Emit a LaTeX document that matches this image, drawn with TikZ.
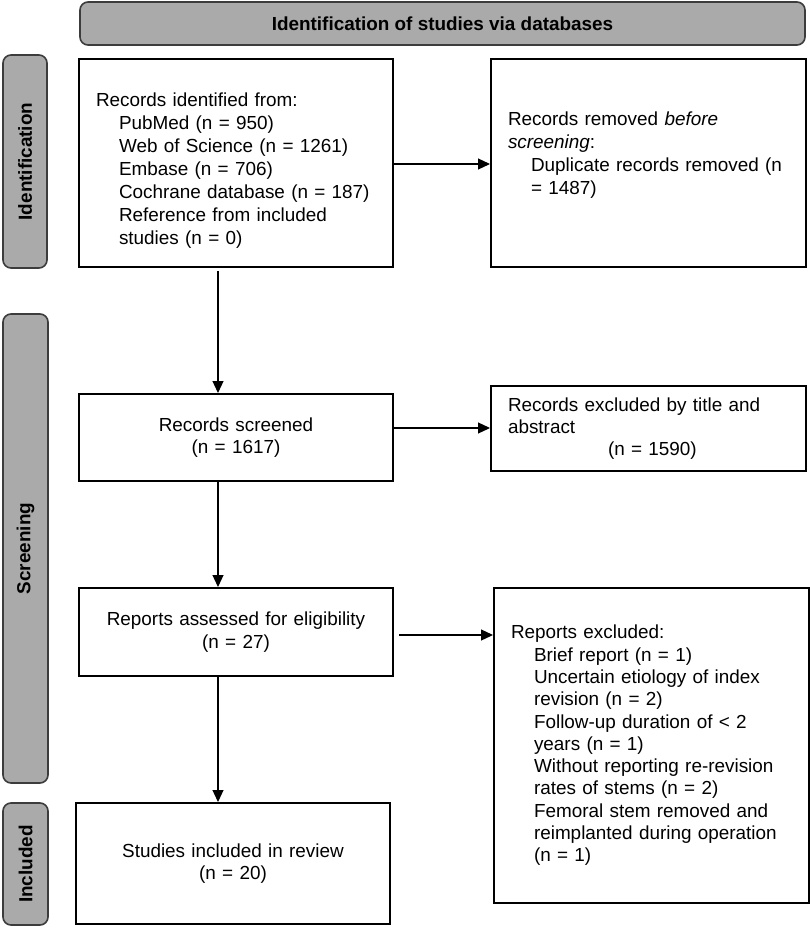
\documentclass[tikz,border=0pt]{standalone}
\usepackage{fontspec}
\setmainfont{Liberation Sans}
\usetikzlibrary{arrows.meta}
\definecolor{labgray}{RGB}{170,170,170}
\definecolor{labedge}{RGB}{60,60,60}
\tikzset{
  txt/.style={font=\fontsize{18.9pt}{22.3pt}\selectfont},
  box/.style={txt, draw=black, line width=2pt, fill=white, rectangle, anchor=north west, inner ysep=0pt},
  sidelab/.style={txt, font=\fontsize{18.9pt}{22.3pt}\selectfont\bfseries, draw=labedge, line width=1.6pt, fill=labgray, rounded corners=8pt, rotate=90, inner sep=0pt},
  header/.style={txt, font=\fontsize{18.9pt}{22.3pt}\selectfont\bfseries, draw=labedge, line width=1.6pt, fill=labgray, rounded corners=8pt, inner sep=0pt},
  conn/.style={line width=1.2pt, -{Triangle[length=12pt,width=11pt]}}
}
\newcommand{\ind}{\hspace*{23pt}}
\begin{document}
\begin{tikzpicture}[x=1pt,y=-1pt]
\useasboundingbox (0,0) rectangle (810,928);
% header
\node[header, minimum width=725pt, minimum height=43pt] (head) at (442.5,23.5) {Identification of studies via databases};
% side labels
\node[sidelab, minimum width=213pt, minimum height=44pt] (lid) at (25,161.5) {Identification};
\node[sidelab, minimum width=469pt, minimum height=45pt] (lsc) at (25.5,548.5) {Screening};
\node[sidelab, minimum width=122pt, minimum height=45pt] (lin) at (25.5,864) {Included};
% boxes
\node[box, minimum width=314pt, minimum height=208pt, text width=280pt, inner xsep=17pt, align=left,
      font=\fontsize{18.9pt}{23pt}\selectfont] (ident) at (78,58)
{\rule{0pt}{28pt}Records identified from:\\
\ind PubMed (n = 950)\\
\ind Web of Science (n = 1261)\\
\ind Embase (n = 706)\\
\ind Cochrane database (n = 187)\\
\ind Reference from included\\
\ind studies (n = 0)};
\node[box, minimum width=315pt, minimum height=208pt, text width=281pt, inner xsep=17pt, align=left,
      font=\fontsize{18.9pt}{23pt}\selectfont] (remov) at (490,58)
{Records removed \textit{before}\\
\textit{screening}:\\
\ind Duplicate records removed (n\\
\ind = 1487)\rule[-20pt]{0pt}{20pt}};
\node[box, minimum width=314pt, minimum height=87pt, text width=314pt, inner xsep=0pt, align=center] (scr) at (78,393)
{Records screened\\(n = 1617)};
\node[box, minimum width=314pt, minimum height=85pt, text width=281pt, inner xsep=17pt, align=left] (excl) at (490,385)
{Records excluded by title and\\
abstract\\
\hspace*{100pt}(n = 1590)};
\node[box, minimum width=314pt, minimum height=88pt, text width=314pt, inner xsep=0pt, align=center] (assess) at (78,587)
{Reports assessed for eligibility\\(n = 27)};
\node[box, minimum width=314pt, minimum height=315pt, text width=281pt, inner xsep=17pt, align=left] (repx) at (493,587)
{Reports excluded:\\
\ind Brief report (n = 1)\\
\ind Uncertain etiology of index\\
\ind revision (n = 2)\\
\ind Follow-up duration of < 2\\
\ind years (n = 1)\\
\ind Without reporting re-revision\\
\ind rates of stems (n = 2)\\
\ind Femoral stem removed and\\
\ind reimplanted during operation\\
\ind (n = 1)};
\node[box, minimum width=314pt, minimum height=121pt, text width=314pt, inner xsep=0pt, align=center] (incl) at (75,802)
{Studies included in review\\(n = 20)};
% connectors
\coordinate (vx) at (218,0);
\draw[conn] ([yshift=-3pt]ident.south -| vx) -- (scr.north -| vx);
\draw[conn] (scr.south -| vx) -- (assess.north -| vx);
\draw[conn] (assess.south -| vx) -- (incl.north -| vx);
\draw[conn] ([yshift=-1pt]ident.east) coordinate (h1) -- (h1 -| remov.west);
\draw[conn] ([yshift=9.5pt]scr.east) coordinate (h2) -- (h2 -| excl.west);
\draw[conn] ([xshift=5pt,yshift=-3pt]assess.east) coordinate (h3) -- (h3 -| repx.west);
\end{tikzpicture}
\end{document}
